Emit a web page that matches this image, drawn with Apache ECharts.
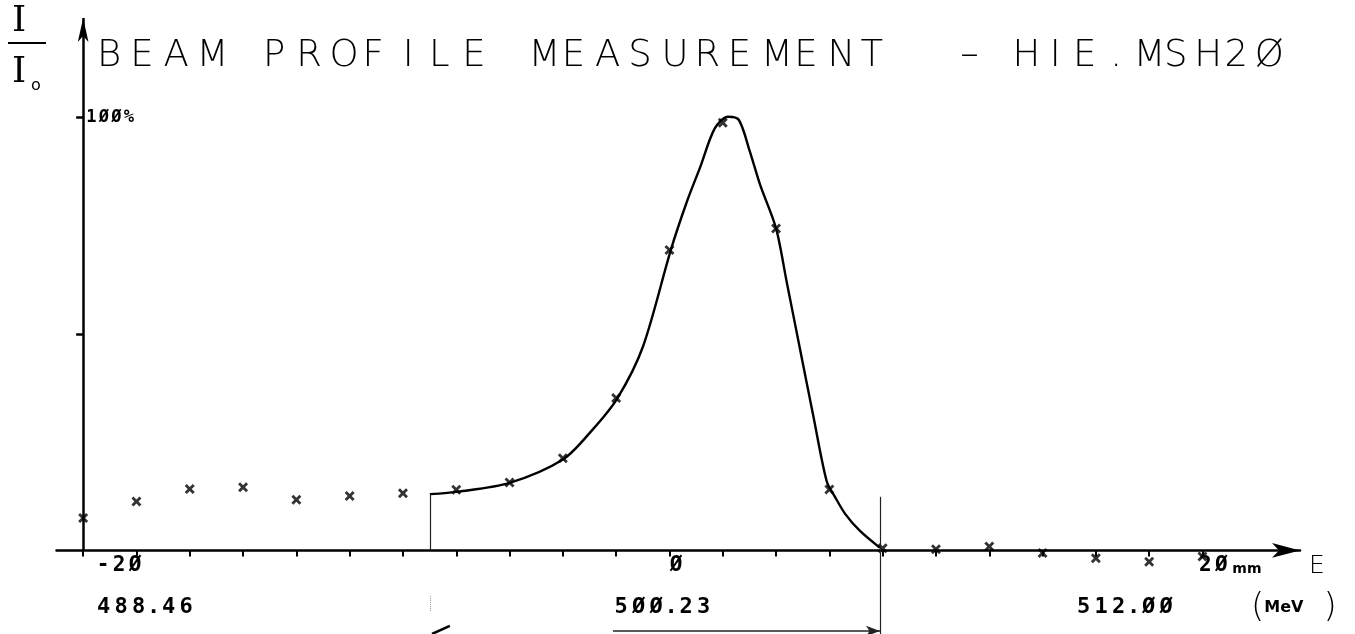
<!DOCTYPE html>
<html>
<head>
<meta charset="utf-8">
<script src="https://cdn.jsdelivr.net/npm/echarts@6/dist/echarts.min.js"></script>
<style>
  html, body { margin: 0; padding: 0; background: #fff; }
  #chartsDiv { width: 1355px; height: 634px; }
</style>
</head>
<body>
<div id="chartsDiv"></div>
<script>
// measured points, position in mm / intensity in % of peak
var ptX = [-22, -20, -18, -16, -14, -12, -10, -8, -6, -4, -2, 0, 2, 4, 6, 8, 10, 12, 14, 16, 18, 20]
var ptY = [7.5, 11.3, 14.2, 14.6, 11.7, 12.6, 13.2, 14.0, 15.7, 21.3, 35.2, 69.4, 98.8, 74.4, 14.1, 0.5, 0.3, 0.9, -0.6, -1.8, -2.6, -1.4]

// hand fitted curve
var curveX = [-8.99, -7.9, -6.0, -4.0, -2.9, -1.95, -1.0, 0.05, 0.65, 1.15, 1.7, 2.2, 2.6, 3.0, 3.4, 4.0, 4.4, 4.9, 5.4, 5.9, 6.2, 6.6, 7.15, 7.9]
var curveY = [13.0, 13.6, 15.6, 21.0, 27.8, 35.2, 47.0, 69.4, 80.5, 88.5, 97.5, 100.2, 99.5, 92.5, 84.5, 74.4, 62.0, 46.5, 31.0, 16.0, 12.5, 8.4, 4.5, 0.6]

// tick labels
var mmTicks = [-20, 0, 20]
var energyLabels = ['488.46', '500.23', '512.00']

// cut marks drawn on the plot
var cutLeft = -8.99
var cutRight = 7.9

var mono = 'DejaVu Sans Mono'
var thin = 'DejaVu Sans'

// plotter draws zeros slashed
var plotter = function(s) {
  return String(s).replace(/0/g, '\u00d8')
}

var rich = {
  t: { fontFamily: thin, fontWeight: 200, fontSize: 37, lineHeight: 44, width: 33.2, color: '#000' },
  u: { fontFamily: thin, fontWeight: 200, fontSize: 37, lineHeight: 44, width: 30.3, color: '#000' },
  g: { fontFamily: mono, fontWeight: 'bold', fontSize: 21, width: 16, color: '#000' },
  s: { fontFamily: 'DejaVu Sans', fontWeight: 'bold', fontSize: 14, color: '#000', verticalAlign: 'bottom' },
  e: { fontFamily: mono, fontWeight: 'bold', fontSize: 22, width: 17.5, color: '#000' },
  ed: { fontFamily: mono, fontWeight: 'bold', fontSize: 22, width: 12.5, color: '#000' },
  y: { fontFamily: mono, fontWeight: 'bold', fontSize: 17, width: 12.5, color: '#000' },
  par: { fontFamily: thin, fontWeight: 200, fontSize: 34, color: '#000' },
  mev: { fontFamily: 'DejaVu Sans', fontWeight: 'bold', fontSize: 16, color: '#000' },
  ename: { fontFamily: thin, fontWeight: 200, fontSize: 25, color: '#000', verticalAlign: 'top', padding: [4, 0, 0, 0] }
}

// all rich styles have to exist before setOption, so labels are built up front
var pad = function(w) {
  var k = 'p' + w
  rich[k] = { width: w, fontSize: 12 }
  return '{' + k + '|\u00a0}'
}
var glyphs = function(str, style) {
  return str.split('').map(function(c) {
    var st = style
    if (style === 'e' && c === '.') st = 'ed'
    // narrow letters sit in the middle of their plotter cell
    if ((style === 't' || style === 'u') && (c === 'I' || c === '.')) {
      var k = style + 'n'
      rich[k] = Object.assign({}, rich[style], { width: rich[style].width - 7 })
      return pad(7) + '{' + k + '|' + c + '}'
    }
    return '{' + st + '|' + c + '}'
  }).join('')
}

var titleText = glyphs('BEAM PROFILE MEASUREMENT  \u2013', 't') + pad(19) + glyphs(plotter('HIE.MSH20'), 'u')

var mmText = {}
mmText[-20] = glyphs(plotter('-20'), 'g') + pad(35)
mmText[0] = pad(13) + glyphs(plotter('0'), 'g')
mmText[20] = pad(54) + glyphs(plotter('20'), 'g') + pad(3) + '{s|mm}'

var energyText = {}
energyText[mmTicks[0]] = pad(17) + glyphs(plotter(energyLabels[0]), 'e')
energyText[mmTicks[1]] = glyphs(plotter(energyLabels[1]), 'e') + pad(14)
energyText[mmTicks[2]] = glyphs(plotter(energyLabels[2]), 'e') + pad(155)

var yText = glyphs(plotter(100) + '%', 'y')
var mevText = '{par|(}{mev|MeV}' + pad(20) + '{par|)}'

var chart = echarts.init(document.getElementById('chartsDiv'), null, { renderer: 'canvas' })

var thinLine = { color: '#222', width: 1.2, type: 'solid' }

var option = {
  animation: false,
  backgroundColor: '#fff',
  title: {
    text: titleText,
    left: 92,
    top: 29,
    textStyle: { rich: rich }
  },
  graphic: [
    { type: 'text', left: 12, top: 4, style: { text: 'I', font: '36px "DejaVu Serif"', fill: '#000' } },
    { type: 'line', shape: { x1: 8, y1: 43, x2: 46, y2: 43 }, style: { stroke: '#000', lineWidth: 2 } },
    { type: 'text', left: 12, top: 55, style: { text: 'I', font: '36px "DejaVu Serif"', fill: '#000' } },
    { type: 'text', left: 31, top: 78, style: { text: 'o', font: '16px "DejaVu Sans"', fill: '#000' } },
    // energy unit
    { type: 'text', left: 1251, top: 591, style: { text: mevText, rich: rich } }
  ],
  grid: {
    left: 56.5,
    right: 55,
    top: 18,
    bottom: 0,
    containLabel: false,
    outerBoundsMode: 'none'
  },
  xAxis: [
    {
      type: 'value',
      position: 'bottom',
      offset: -83.6,
      min: -23,
      max: 23.66,
      name: '{ename|E}',
      nameLocation: 'end',
      nameGap: 9,
      nameTextStyle: { rich: rich, verticalAlign: 'top' },
      axisLine: {
        onZero: false,
        symbol: ['none', 'arrow'],
        symbolSize: [11, 28],
        lineStyle: { color: '#000', width: 2.5 }
      },
      axisTick: { customValues: ptX, length: 6, lineStyle: { color: '#000', width: 2 } },
      axisLabel: {
        customValues: mmTicks,
        margin: 5,
        formatter: function(v) { return mmText[v] || '' },
        rich: rich
      },
      splitLine: { show: false }
    },
    {
      type: 'value',
      position: 'bottom',
      offset: -40,
      min: -23,
      max: 23.66,
      axisLine: { show: false, onZero: false },
      axisTick: { show: false },
      axisLabel: {
        customValues: mmTicks,
        margin: 2,
        formatter: function(v) { return energyText[v] || '' },
        rich: rich
      },
      splitLine: { show: false }
    }
  ],
  yAxis: {
    type: 'value',
    min: -19.3,
    max: 123,
    offset: -26.65,
    axisLine: { show: false, onZero: false },
    axisTick: { customValues: [50, 100], length: 7, lineStyle: { color: '#000', width: 2.5 } },
    axisLabel: {
      customValues: [100],
      inside: true,
      margin: 3,
      formatter: function() { return yText },
      rich: rich
    },
    splitLine: { show: false }
  },
  series: [
    {
      name: 'fit',
      type: 'line',
      smooth: 0.3,
      showSymbol: false,
      symbol: 'none',
      clip: false,
      lineStyle: { color: '#000', width: 2.4 },
      data: curveX.map(function(x, i) { return [x, curveY[i]] }),
      markLine: {
        silent: true,
        animation: false,
        symbol: ['none', 'none'],
        label: { show: false },
        data: [
          // vertical axis with arrow
          [
            { coord: [-22, 0], symbol: 'none', lineStyle: { color: '#000', width: 2.5, type: 'solid' } },
            { coord: [-22, 123], symbol: 'arrow', symbolSize: [8, 24] }
          ],
          [
            { coord: [cutLeft, curveY[0]], lineStyle: thinLine },
            { coord: [cutLeft, 0] }
          ],
          [
            { coord: [cutLeft, -10.5], lineStyle: { color: '#999', width: 1, type: 'dotted' } },
            { coord: [cutLeft, -14] }
          ],
          [
            { coord: [cutRight, 12.4], lineStyle: thinLine },
            { coord: [cutRight, -19.3] }
          ],
          [
            { coord: [-2.12, -18.6], symbol: 'none', lineStyle: { color: '#222', width: 1.5, type: 'solid' } },
            { coord: [cutRight, -18.6], symbol: 'arrow', symbolSize: [8, 14] }
          ],
          [
            { coord: [-8.91, -19.3], lineStyle: { color: '#000', width: 2.5, type: 'solid' } },
            { coord: [-8.24, -17.4] }
          ]
        ]
      }
    },
    {
      name: 'measured',
      type: 'scatter',
      clip: false,
      symbol: 'path://M0,2L2,0L5,3L8,0L10,2L7,5L10,8L8,10L5,7L2,10L0,8L3,5Z',
      symbolSize: 10,
      itemStyle: { color: '#000' },
      data: ptX.map(function(x, i) { return [x, ptY[i]] })
    }
  ]
}

chart.setOption(option)
</script>
</body>
</html>
